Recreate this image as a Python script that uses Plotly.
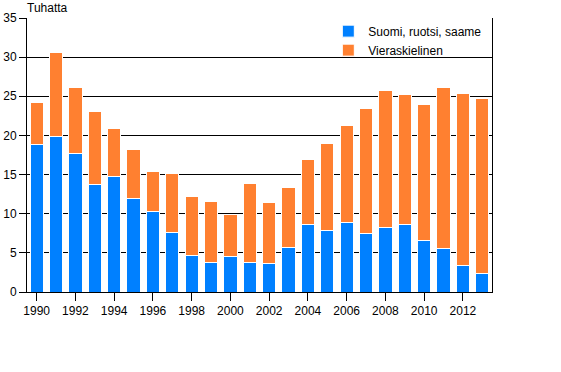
import plotly.graph_objects as go

years = list(range(1990, 2014))
suomi = [18.8, 19.85, 17.7, 13.7, 14.7, 11.95, 10.3, 7.6, 4.65, 3.8, 4.5, 3.8,
         3.6, 5.7, 8.6, 7.85, 8.9, 7.5, 8.2, 8.6, 6.6, 5.5, 3.4, 2.4]
total = [24.2, 30.6, 26.1, 23.0, 20.9, 18.2, 15.45, 15.1, 12.25, 11.6, 9.85, 13.8,
         11.4, 13.4, 16.9, 19.0, 21.3, 23.5, 25.8, 25.2, 23.9, 26.1, 25.4, 24.7]
vieras = [round(t - s, 2) for t, s in zip(total, suomi)]

series_names = ["Suomi, ruotsi, saame", "Vieraskielinen"]
colors = ["#0080ff", "#ff8030"]
ytick_vals = [0, 5, 10, 15, 20, 25, 30, 35]
xtick_vals = list(range(1990, 2013, 2))

font = dict(family="Arial, Liberation Sans, sans-serif", size=12, color="black")

fig = go.Figure()
fig.add_trace(go.Bar(x=years, y=suomi, name=series_names[0],
                     marker=dict(color=colors[0], line=dict(color="white", width=1))))
fig.add_trace(go.Bar(x=years, y=vieras, name=series_names[1],
                     marker=dict(color=colors[1], line=dict(color="white", width=1))))

fig.update_layout(
    barmode="stack",
    bargap=0.32,
    width=561, height=372,
    margin=dict(l=27, r=69, t=18, b=80, autoexpand=False),
    paper_bgcolor="white",
    plot_bgcolor="white",
    font=font,
    legend=dict(x=0.648, y=1.005, xanchor="left", yanchor="top",
                bgcolor="rgba(0,0,0,0)", font=font, traceorder="normal",
                tracegroupgap=0, itemwidth=30),
    annotations=[dict(text="Tuhatta", x=0, y=1, xref="paper", yref="paper",
                      xanchor="left", yanchor="bottom", showarrow=False,
                      font=font, yshift=1, xshift=-2)],
    showlegend=True,
)
fig.update_xaxes(range=[1989.5, 2013.5], tickvals=xtick_vals,
                 ticks="outside", ticklen=8, tickcolor="black",
                 showline=True, linecolor="black", linewidth=1,
                 showgrid=False, zeroline=False, tickfont=font, automargin=False)
fig.update_yaxes(range=[0, 35], tickvals=ytick_vals,
                 ticks="outside", ticklen=7, tickcolor="black",
                 showline=True, linecolor="black", linewidth=1, mirror=True,
                 showgrid=True, gridcolor="black", gridwidth=1,
                 zeroline=False, tickfont=font, automargin=False)

fig.write_html("out.html", config={"displayModeBar": False},
               post_script="document.body.style.margin='0px';")
